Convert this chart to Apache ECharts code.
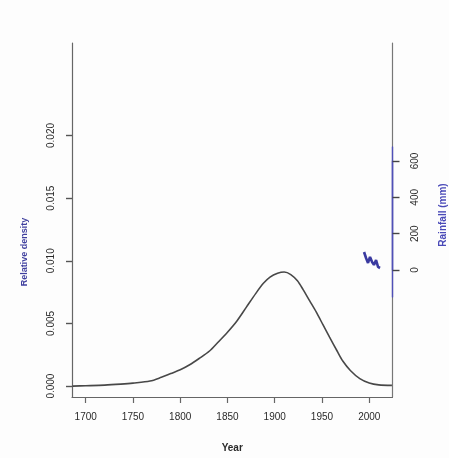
<!DOCTYPE html>
<html>
<head>
<meta charset="utf-8">
<script src="https://cdn.jsdelivr.net/npm/echarts@6/dist/echarts.min.js"></script>
<style>
  html, body { margin: 0; padding: 0; background: #fdfdfd; }
  #chart { width: 449px; height: 458px; }
</style>
</head>
<body>
<div id="chart"></div>
<script>
// density curve (year, relative density)
const densityYears = [1686, 1700, 1720, 1737, 1750, 1768, 1780, 1790, 1800, 1810, 1820, 1831, 1840, 1850, 1860, 1870, 1880, 1888, 1895, 1903, 1910, 1917, 1924, 1930, 1937, 1944, 1951, 1958, 1966, 1972, 1980, 1990, 2000, 2010, 2024];
const densityValues = [0.00000, 0.00003, 0.00008, 0.00016, 0.00024, 0.0004, 0.0007, 0.0010, 0.0013, 0.0017, 0.0022, 0.0028, 0.0035, 0.0043, 0.0052, 0.0063, 0.0074, 0.0082, 0.0087, 0.0090, 0.0091, 0.0089, 0.0084, 0.0077, 0.0068, 0.0059, 0.0049, 0.0039, 0.0028, 0.0020, 0.00125, 0.0006, 0.00025, 0.0001, 0.00006];

// rainfall squiggle (year, mm)
const rainYears = [1994.5, 1996.6, 1998.7, 2000.8, 2003.0, 2005.0, 2007.2, 2009.3, 2011.4];
const rainValues = [99, 66, 39, 72, 44, 28, 55, 17, 11];

const yearTicks = [1700, 1750, 1800, 1850, 1900, 1950, 2000];
const densityTicks = [0, 0.005, 0.01, 0.015, 0.02];

const chart = echarts.init(document.getElementById('chart'));

const labelFont = { fontFamily: 'Liberation Sans', fontSize: 10, color: '#2a2a2a' };
const axisGray = '#666';
const rainBlue = '#5050b8';

chart.setOption({
  backgroundColor: '#fdfdfd',
  animation: false,
  grid: [
    { left: 72, right: 56.5, top: 43, bottom: 59 },
    // rainfall scale, 0..600 mm
    { left: 72, right: 56.5, top: 161, bottom: 188 },
    // full extent of the blue rainfall axis line
    { left: 72, right: 56.5, top: 147, bottom: 161 }
  ],
  xAxis: [{
    gridIndex: 0,
    type: 'value',
    min: 1685.5,
    max: 2024.6,
    splitLine: { show: false },
    axisLine: { onZero: false, lineStyle: { color: axisGray, width: 1.2 } },
    axisTick: { customValues: yearTicks, length: 6, lineStyle: { color: axisGray, width: 1.2 } },
    axisLabel: Object.assign({ customValues: yearTicks, margin: 15, formatter: v => String(v) }, labelFont),
    name: 'Year',
    nameLocation: 'middle',
    nameGap: 46,
    nameTextStyle: { fontFamily: 'Liberation Sans', fontSize: 10, fontWeight: 'bold', color: '#2a2a2a' }
  }, {
    gridIndex: 1, type: 'value', min: 1685.5, max: 2024.6, show: false
  }, {
    gridIndex: 2, type: 'value', min: 1685.5, max: 2024.6, show: false
  }],
  yAxis: [{
    gridIndex: 0,
    type: 'value',
    position: 'left',
    min: -0.00087,
    max: 0.02738,
    splitLine: { show: false },
    axisLine: { show: true, onZero: false, lineStyle: { color: axisGray, width: 1.2 } },
    axisTick: { show: true, customValues: densityTicks, length: 6, lineStyle: { color: '#555', width: 1.4 } },
    axisLabel: Object.assign({
      customValues: densityTicks,
      rotate: 90,
      margin: 16,
      formatter: v => v.toFixed(3)
    }, labelFont)
  }, {
    gridIndex: 0,
    type: 'value',
    position: 'right',
    min: 0,
    max: 1,
    splitLine: { show: false },
    axisLine: { show: true, onZero: false, lineStyle: { color: '#777', width: 1.2 } },
    axisTick: { show: false },
    axisLabel: { show: false }
  }, {
    gridIndex: 1,
    type: 'value',
    position: 'right',
    min: 0,
    max: 600,
    interval: 200,
    splitLine: { show: false },
    axisLine: { show: true, onZero: false, lineStyle: { color: rainBlue, width: 1.4 } },
    axisTick: { show: true, length: 7, lineStyle: { color: '#444', width: 1.4 } },
    axisLabel: Object.assign({ rotate: 90, margin: 18 }, labelFont)
  }, {
    gridIndex: 2,
    type: 'value',
    position: 'right',
    min: 0,
    max: 1,
    splitLine: { show: false },
    axisLine: { show: true, onZero: false, lineStyle: { color: rainBlue, width: 1.4 } },
    axisTick: { show: false },
    axisLabel: { show: false }
  }],
  graphic: [{
    type: 'text',
    x: 25,
    y: 252,
    rotation: Math.PI / 2,
    style: {
      text: 'Relative density',
      fill: '#3f3f9e',
      font: 'bold 9px "Liberation Sans"',
      align: 'center',
      verticalAlign: 'middle'
    }
  }, {
    type: 'text',
    x: 443,
    y: 215,
    rotation: Math.PI / 2,
    style: {
      text: 'Rainfall (mm)',
      fill: '#4a4ab8',
      font: 'bold 10px "Liberation Sans"',
      align: 'center',
      verticalAlign: 'middle'
    }
  }],
  series: [{
    type: 'line',
    xAxisIndex: 0,
    yAxisIndex: 0,
    data: densityYears.map((y, i) => [y, densityValues[i]]),
    smooth: 0.3,
    showSymbol: false,
    lineStyle: { color: '#484848', width: 1.6 }
  }, {
    type: 'line',
    xAxisIndex: 1,
    yAxisIndex: 2,
    data: rainYears.map((y, i) => [y, rainValues[i]]),
    showSymbol: false,
    lineStyle: { color: '#3a3aa0', width: 2.6 }
  }]
});
</script>
</body>
</html>
